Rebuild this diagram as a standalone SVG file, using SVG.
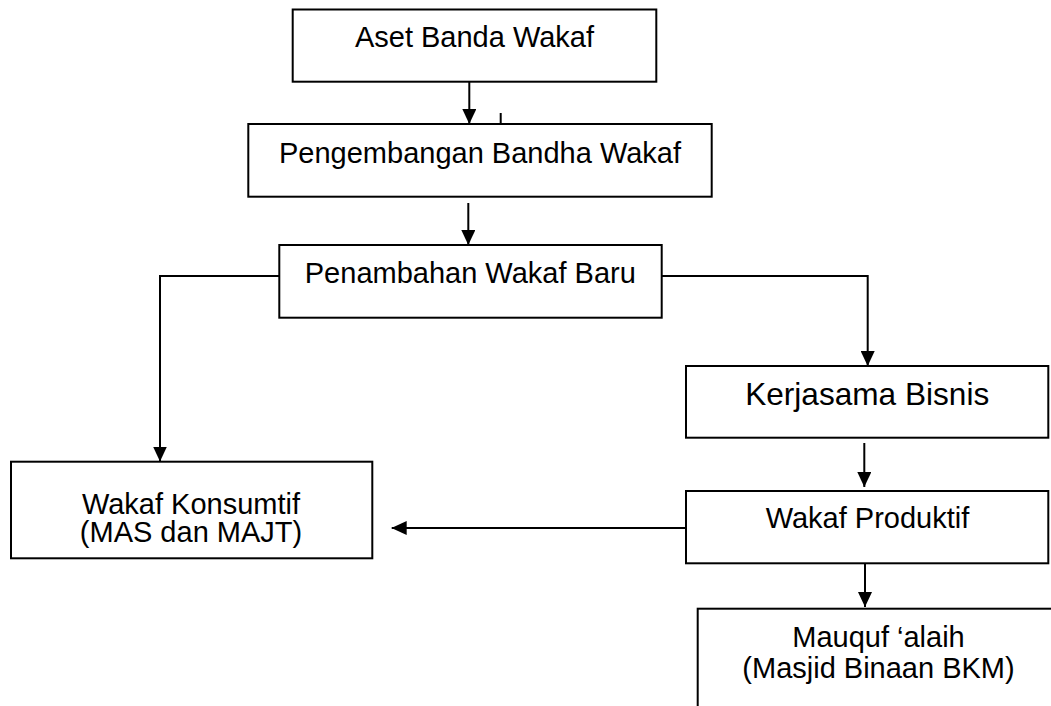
<svg xmlns="http://www.w3.org/2000/svg" width="1051" height="706" viewBox="0 0 1051 706">
<style>
.box{fill:#fff;stroke:#000;stroke-width:2}
.t{font-family:"Liberation Sans",Arial,sans-serif;font-size:29px;fill:#000}
.c{fill:none;stroke:#000;stroke-width:2}
.a{marker-end:url(#arr)}
</style>
<defs>
<marker id="arr" markerUnits="userSpaceOnUse" markerWidth="15" markerHeight="14" refX="15" refY="7" orient="auto">
<path d="M0,0 L15,7 L0,14 Z" fill="#000"/>
</marker>
</defs>
<rect width="1051" height="706" fill="#fff"/>
<g id="connectors">
<line class="c a" x1="469.3" y1="82" x2="469.3" y2="124"/>
<line class="c" x1="500.7" y1="113" x2="500.7" y2="124"/>
<line class="c a" x1="468.3" y1="203" x2="468.3" y2="245"/>
<polyline class="c a" points="279.3,276 160,276 160,461.5"/>
<polyline class="c a" points="661.7,276 867.7,276 867.7,366"/>
<line class="c a" x1="864.3" y1="443" x2="864.3" y2="487"/>
<line class="c a" x1="865" y1="563.5" x2="865" y2="607"/>
<line class="c a" x1="686" y1="528" x2="391.7" y2="528"/>
</g>
<g id="n1">
<rect class="box" x="292.7" y="9.5" width="363.6" height="72.2"/>
<text class="t" x="474.5" y="47.3" text-anchor="middle">Aset Banda Wakaf</text>
</g>
<g id="n2">
<rect class="box" x="248.3" y="124" width="463.4" height="72.7"/>
<text class="t" x="480" y="163.3" text-anchor="middle">Pengembangan Bandha Wakaf</text>
</g>
<g id="n3">
<rect class="box" x="279.3" y="245" width="382.4" height="72.7"/>
<text class="t" x="470.3" y="283.3" text-anchor="middle">Penambahan Wakaf Baru</text>
</g>
<g id="n4">
<rect class="box" x="686" y="366" width="362.3" height="71.7"/>
<text class="t" x="867.2" y="405" text-anchor="middle" style="font-size:31.6px">Kerjasama Bisnis</text>
</g>
<g id="n5">
<rect class="box" x="686" y="491" width="362.3" height="72.3"/>
<text class="t" x="867.5" y="528.3" text-anchor="middle">Wakaf Produktif</text>
</g>
<g id="n6">
<rect class="box" x="11" y="461.7" width="361.3" height="96.6"/>
<text class="t" x="191" y="514" text-anchor="middle">Wakaf Konsumtif</text>
<text class="t" x="191" y="541.7" text-anchor="middle">(MAS dan MAJT)</text>
</g>
<g id="n7">
<rect class="box" x="697.7" y="608.7" width="370" height="120"/>
<text class="t" x="878.5" y="646.7" text-anchor="middle">Mauquf ‘alaih</text>
<text class="t" x="878.5" y="678.3" text-anchor="middle">(Masjid Binaan BKM)</text>
</g>
</svg>
